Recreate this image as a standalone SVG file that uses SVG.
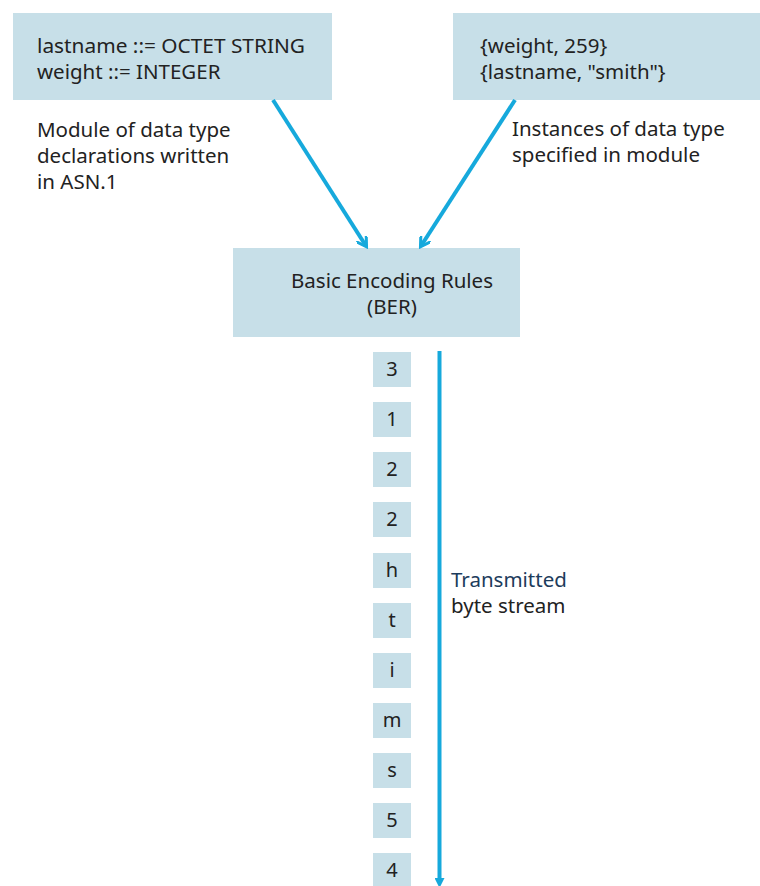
<svg xmlns="http://www.w3.org/2000/svg" width="760" height="886" viewBox="0 0 760 886">
<defs>
<style>
.box{fill:#c7dfe8;}
.t{font-family:"Noto Sans","Open Sans",sans-serif;font-size:20.5px;fill:#222;}
.b{font-size:20px;}
.c{text-anchor:middle;}
.ln{stroke:#16a9dc;stroke-width:4;fill:none;}
</style>
<marker id="ah" markerWidth="12" markerHeight="12" refX="9" refY="6" orient="auto" markerUnits="userSpaceOnUse">
<path d="M0,0 L10,6 L0,12" fill="none" stroke="#16a9dc" stroke-width="3"/>
</marker>
<marker id="ah2" markerWidth="14" markerHeight="10" refX="2" refY="5" orient="auto" markerUnits="userSpaceOnUse">
<path d="M0,0 L10,5 L0,10 Z" fill="#16a9dc"/>
</marker>
</defs>
<rect width="760" height="886" fill="#fff"/>
<g id="module">
<rect class="box" x="13" y="13" width="319" height="87"/>
<text class="t" x="37" y="53" textLength="268" lengthAdjust="spacingAndGlyphs">lastname ::= OCTET STRING</text>
<text class="t" x="37" y="79">weight ::= INTEGER</text>
</g>
<g id="module-label">
<text class="t" x="37" y="137">Module of data type</text>
<text class="t" x="37" y="163">declarations written</text>
<text class="t" x="37" y="189">in ASN.1</text>
</g>
<g id="instances">
<rect class="box" x="453" y="13" width="307" height="87"/>
<text class="t" x="480" y="53">{weight, 259}</text>
<text class="t" x="480" y="79">{lastname, "smith"}</text>
</g>
<g id="instances-label">
<text class="t" x="512" y="136">Instances of data type</text>
<text class="t" x="512" y="162">specified in module</text>
</g>
<g id="ber">
<rect class="box" x="233" y="248" width="287" height="89"/>
<text class="t c" x="392" y="288">Basic Encoding Rules</text>
<text class="t c" x="392" y="314">(BER)</text>
</g>
<g id="bytes">
<rect class="box" x="373" y="352" width="38" height="35"/><text class="t b c" x="392" y="376">3</text>
<rect class="box" x="373" y="402" width="38" height="35"/><text class="t b c" x="392" y="426">1</text>
<rect class="box" x="373" y="452" width="38" height="35"/><text class="t b c" x="392" y="476">2</text>
<rect class="box" x="373" y="502" width="38" height="35"/><text class="t b c" x="392" y="526">2</text>
<rect class="box" x="373" y="553" width="38" height="35"/><text class="t b c" x="392" y="577">h</text>
<rect class="box" x="373" y="603" width="38" height="35"/><text class="t b c" x="392" y="627">t</text>
<rect class="box" x="373" y="653" width="38" height="35"/><text class="t b c" x="392" y="677">i</text>
<rect class="box" x="373" y="703" width="38" height="35"/><text class="t b c" x="392" y="727">m</text>
<rect class="box" x="373" y="753" width="38" height="35"/><text class="t b c" x="392" y="777">s</text>
<rect class="box" x="373" y="803" width="38" height="35"/><text class="t b c" x="392" y="827">5</text>
<rect class="box" x="373" y="853" width="38" height="35"/><text class="t b c" x="392" y="877">4</text>
</g>
<g id="stream-label">
<text class="t" x="451" y="587" style="fill:#1d3c5c">Transmitted</text>
<text class="t" x="451" y="613">byte stream</text>
</g>
<g id="connectors">
<line class="ln" x1="273" y1="100" x2="366" y2="246" marker-end="url(#ah)"/>
<line class="ln" x1="515" y1="100" x2="421" y2="246" marker-end="url(#ah)"/>
<line class="ln" x1="439.5" y1="351" x2="439.5" y2="880" marker-end="url(#ah2)"/>
</g>
</svg>
